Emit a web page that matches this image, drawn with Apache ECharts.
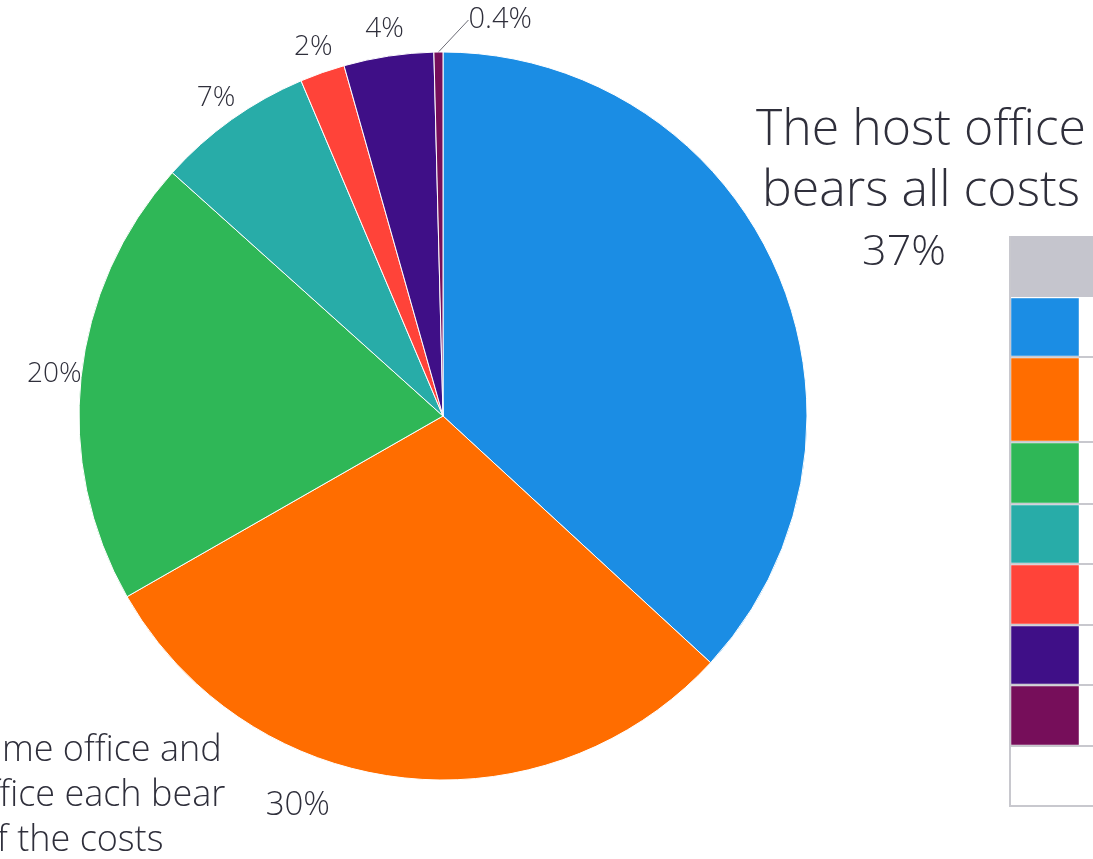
<!DOCTYPE html>
<html>
<head>
<meta charset="utf-8">
<script src="https://cdn.jsdelivr.net/npm/echarts@6/dist/echarts.min.js"></script>
<style>
  html, body { margin: 0; padding: 0; background: #ffffff; }
  #chart { width: 1093px; height: 859px; }
</style>
</head>
<body>
<div id="chart"></div>
<script>
// Who bears the costs — share of responses (%)
const categories = [
  'The host office bears all costs',
  'The home office and host office each bear half the costs',
  'The home office bears all costs',
  'Costs are split in another way',
  'The employee bears the costs',
  'Other arrangement',
  'No answer'
];
const shares = [37, 30, 20, 7, 2, 4, 0.4];
// Category names written out beside the two largest slices, one entry per line
const nameLines = [
  ['The host office', 'bears all costs'],
  ['The home office and', 'host office each bear', 'half the costs'],
  null, null, null, null, null
];
const colors = ['#1b8de4', '#ff6d00', '#2fb757', '#28aca8', '#ff4339', '#3f0f87', '#760e5a'];

const TEXT = '#2f2f3b';
const FONT = "'Open Sans', 'Noto Sans', sans-serif";
const WEIGHT = 300;
const CX = 443, CY = 416, R = 364;

// mid angle of every slice, measured clockwise from 12 o'clock
const total = shares.reduce((a, b) => a + b, 0);
const midAngles = [];
let acc = 0;
shares.forEach(v => { midAngles.push((acc + v / 2) / total * Math.PI * 2); acc += v; });

const pct = v => v + '%';
const txt = (size, extra) => Object.assign({ fontSize: size, color: TEXT, fontFamily: FONT, fontWeight: WEIGHT }, extra);

const data = categories.map((name, i) => {
  const item = { name, value: shares[i], itemStyle: { color: colors[i] } };
  if (i === 0) {
    item.label = {
      formatter: nameLines[0].map(l => '{n|' + l + '}').join('\n') + '\n{p|' + pct(shares[0]) + '}',
      rich: {
        n: txt(50, { lineHeight: 61, align: 'center' }),
        p: txt(43, { lineHeight: 62, align: 'center', padding: [0, 34, 0, 0] })
      }
    };
  } else if (i === 1) {
    const l = nameLines[1];
    item.label = {
      formatter: '{n|' + l[0] + '}{e| }\n{n|' + l[1] + '}{p|' + pct(shares[1]) + '}\n{n|' + l[2] + '}{e| }',
      rich: {
        n: txt(36, { lineHeight: 45, width: 360, align: 'center' }),
        p: txt(33, { lineHeight: 45, width: 94, align: 'right', padding: [20, 0, 0, 0] }),
        e: txt(33, { lineHeight: 45, width: 94, align: 'right' })
      }
    };
  } else if (shares[i] < 1) {
    item.label = { fontSize: 29 };
    item.labelLine = { show: true, length: 8, length2: 0, lineStyle: { color: '#6b6b75', width: 1 } };
  }
  return item;
});

// table of colour keys at the right
const rowHeights = [60, 85, 62, 60, 61, 60, 61, 60];
const tableX = 1010, tableTop = 236, headerH = 61, keyW = 68, tableRight = 1100;
const graphics = [
  { type: 'rect', shape: { x: tableX, y: tableTop, width: tableRight - tableX, height: headerH }, style: { fill: '#c5c5cd' }, silent: true }
];
let rowY = tableTop + headerH;
rowHeights.forEach((h, i) => {
  if (colors[i]) {
    graphics.push({ type: 'rect', shape: { x: tableX + 1, y: rowY + 1, width: keyW, height: h - 2 },
      style: { fill: colors[i], stroke: 'rgba(255,255,255,0.45)', lineWidth: 1 }, silent: true });
  }
  graphics.push({ type: 'line', shape: { x1: tableX, y1: rowY + h, x2: tableRight, y2: rowY + h },
    style: { stroke: '#c8c8ce', lineWidth: 2 }, silent: true });
  rowY += h;
});
graphics.push({ type: 'line', shape: { x1: tableX, y1: tableTop, x2: tableX, y2: rowY + 1 },
  style: { stroke: '#c8c8ce', lineWidth: 2 }, silent: true });

const chart = echarts.init(document.getElementById('chart'), null, { renderer: 'canvas' });
chart.setOption({
  animation: false,
  backgroundColor: '#ffffff',
  textStyle: { fontFamily: FONT },
  graphic: graphics,
  series: [{
    type: 'pie',
    center: [CX, CY],
    radius: R,
    startAngle: 90,
    clockwise: true,
    avoidLabelOverlap: false,
    itemStyle: { borderColor: '#ffffff', borderWidth: 1 },
    label: {
      show: true,
      position: 'outside',
      formatter: p => pct(p.value),
      color: TEXT,
      fontSize: 28,
      fontFamily: FONT,
      fontWeight: WEIGHT
    },
    labelLine: { show: false },
    emphasis: { disabled: true },
    labelLayout: params => {
      const i = params.dataIndex;
      const a = midAngles[i];
      const sx = Math.sin(a), sy = -Math.cos(a);
      if (i === 0) return { x: 921, y: 192, align: 'center', verticalAlign: 'middle' };
      if (i === 1) return { x: -124, y: 796, align: 'left', verticalAlign: 'middle' };
      if (shares[i] < 1) {
        return { x: CX + sx * R + 30, y: CY + sy * R - 32, align: 'left', verticalAlign: 'middle' };
      }
      const r = R + 27;
      return { x: CX + sx * r, y: CY + sy * r, align: 'center', verticalAlign: 'middle' };
    },
    data
  }]
});
</script>
</body>
</html>
